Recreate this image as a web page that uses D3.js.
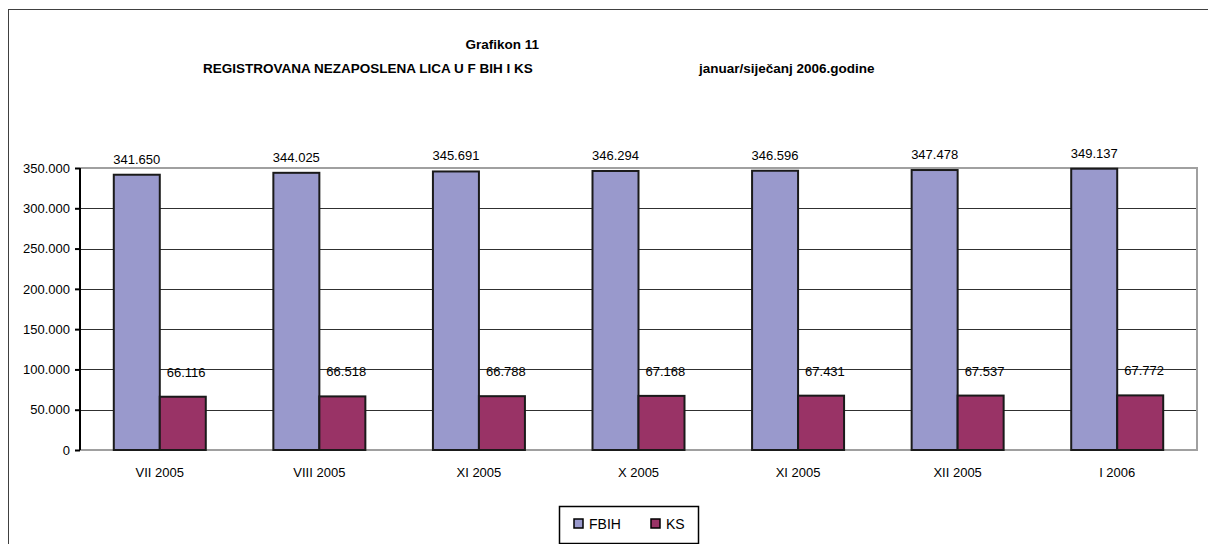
<!DOCTYPE html>
<html lang="en">
<head>
<meta charset="UTF-8">
<title>Grafikon 11</title>
<script src="https://cdnjs.cloudflare.com/ajax/libs/d3/7.8.5/d3.min.js"></script>
<style>
    body { margin: 0; background: #fff; font-family: "Liberation Sans", Arial, sans-serif; }
    .grid line { stroke: #303030; shape-rendering: crispEdges; }
    .axis text { font-size: 13px; fill: #000; }
</style>
</head>
<body>
<script>
    // data
    var categories = ["VII 2005", "VIII 2005", "XI 2005", "X 2005", "XI 2005 ", "XII 2005", "I 2006"];
    var fbih = [341650, 344025, 345691, 346294, 346596, 347478, 349137];
    var ks = [66116, 66518, 66788, 67168, 67431, 67537, 67772];
    var yTicks = [0, 50000, 100000, 150000, 200000, 250000, 300000, 350000];
    var seriesNames = ["FBIH", "KS"];
    var seriesColors = ["#9999cc", "#993366"];

    var W = 1208, H = 544;
    var plot = { left: 80, right: 1197, top: 168, bottom: 450 };

    var fmt = function(v) {
        return d3.format(",")(v).replace(/,/g, ".");
    };

    var svg = d3.select("body").append("svg")
        .attr("width", W)
        .attr("height", H);

    // outer frame
    svg.append("rect")
        .attr("x", 8.5).attr("y", 9.5)
        .attr("width", W + 20).attr("height", H + 20)
        .attr("fill", "none")
        .attr("stroke", "#404040");

    // title
    var title = svg.append("g")
        .attr("font-weight", "bold")
        .attr("font-size", "13.5px");
    title.append("text")
        .attr("x", 539).attr("y", 49)
        .attr("text-anchor", "end")
        .text("Grafikon 11");
    title.append("text")
        .attr("x", 203).attr("y", 73)
        .text("REGISTROVANA NEZAPOSLENA LICA U F BIH I KS");
    title.append("text")
        .attr("x", 699).attr("y", 73)
        .text("januar/siječanj 2006.godine");

    var x = d3.scaleBand()
        .domain(categories)
        .range([plot.left, plot.right]);

    var y = d3.scaleLinear()
        .domain([0, 350000])
        .range([plot.bottom, plot.top]);

    var barW = 46;

    // gridlines
    svg.append("g")
        .attr("class", "grid")
        .selectAll("line")
        .data(yTicks.slice(1, -1))
        .enter().append("line")
        .attr("x1", plot.left).attr("x2", plot.right)
        .attr("y1", function(d) { return Math.round(y(d)) + 0.5; })
        .attr("y2", function(d) { return Math.round(y(d)) + 0.5; });

    // plot frame (top, right, bottom) in gray
    svg.append("path")
        .attr("d", "M" + plot.left + "," + plot.top + "H" + plot.right + "V" + plot.bottom + "H" + plot.left)
        .attr("fill", "none")
        .attr("stroke", "#a0a0a0")
        .attr("stroke-width", 2);

    // bars
    var groups = svg.selectAll(".cat")
        .data(categories)
        .enter().append("g")
        .attr("class", "cat");

    groups.append("rect")
        .attr("x", function(d) { return x(d) + x.bandwidth() / 2 - barW; })
        .attr("y", function(d, i) { return y(fbih[i]); })
        .attr("width", barW)
        .attr("height", function(d, i) { return y(0) - y(fbih[i]); })
        .attr("fill", seriesColors[0])
        .attr("stroke", "#1a1a1a")
        .attr("stroke-width", 2);

    groups.append("rect")
        .attr("x", function(d) { return x(d) + x.bandwidth() / 2; })
        .attr("y", function(d, i) { return y(ks[i]); })
        .attr("width", barW)
        .attr("height", function(d, i) { return y(0) - y(ks[i]); })
        .attr("fill", seriesColors[1])
        .attr("stroke", "#1a1a1a")
        .attr("stroke-width", 2);

    // value labels
    groups.append("text")
        .attr("x", function(d) { return x(d) + x.bandwidth() / 2 - barW / 2; })
        .attr("y", function(d, i) { return y(fbih[i]) - 11; })
        .attr("text-anchor", "middle")
        .attr("font-size", "13px")
        .text(function(d, i) { return fmt(fbih[i]); });

    groups.append("text")
        .attr("x", function(d) { return x(d) + x.bandwidth() / 2 + 7; })
        .attr("y", function(d, i) { return y(ks[i]) - 20; })
        .attr("font-size", "13px")
        .text(function(d, i) { return fmt(ks[i]); });

    // y axis
    var yAxis = svg.append("g")
        .attr("class", "axis")
        .attr("transform", "translate(" + plot.left + ",0)")
        .call(d3.axisLeft(y).tickValues(yTicks).tickSize(5).tickPadding(5).tickFormat(fmt));
    yAxis.selectAll("path, line").attr("stroke", "#000").attr("stroke-width", 2);
    yAxis.select(".domain").attr("d", "M0," + plot.top + "V" + plot.bottom);

    // x labels
    svg.append("g")
        .selectAll("text")
        .data(categories)
        .enter().append("text")
        .attr("x", function(d) { return x(d) + x.bandwidth() / 2; })
        .attr("y", 477)
        .attr("text-anchor", "middle")
        .attr("font-size", "13px")
        .text(function(d) { return d.trim(); });

    // legend
    var lg = svg.append("g").attr("transform", "translate(559,506)");
    lg.append("rect")
        .attr("x", 0.5).attr("y", 0.5)
        .attr("width", 139).attr("height", 37)
        .attr("fill", "#fff")
        .attr("stroke", "#000")
        .attr("stroke-width", 1.5);
    var items = lg.selectAll(".item")
        .data(seriesNames)
        .enter().append("g")
        .attr("transform", function(d, i) { return "translate(" + (15 + i * 77) + ",0)"; });
    items.append("rect")
        .attr("x", 0).attr("y", 13)
        .attr("width", 9).attr("height", 9)
        .attr("fill", function(d, i) { return seriesColors[i]; })
        .attr("stroke", "#000")
        .attr("stroke-width", 1.5);
    items.append("text")
        .attr("x", 15).attr("y", 23)
        .attr("font-size", "14px")
        .text(function(d) { return d; });
</script>
</body>
</html>
